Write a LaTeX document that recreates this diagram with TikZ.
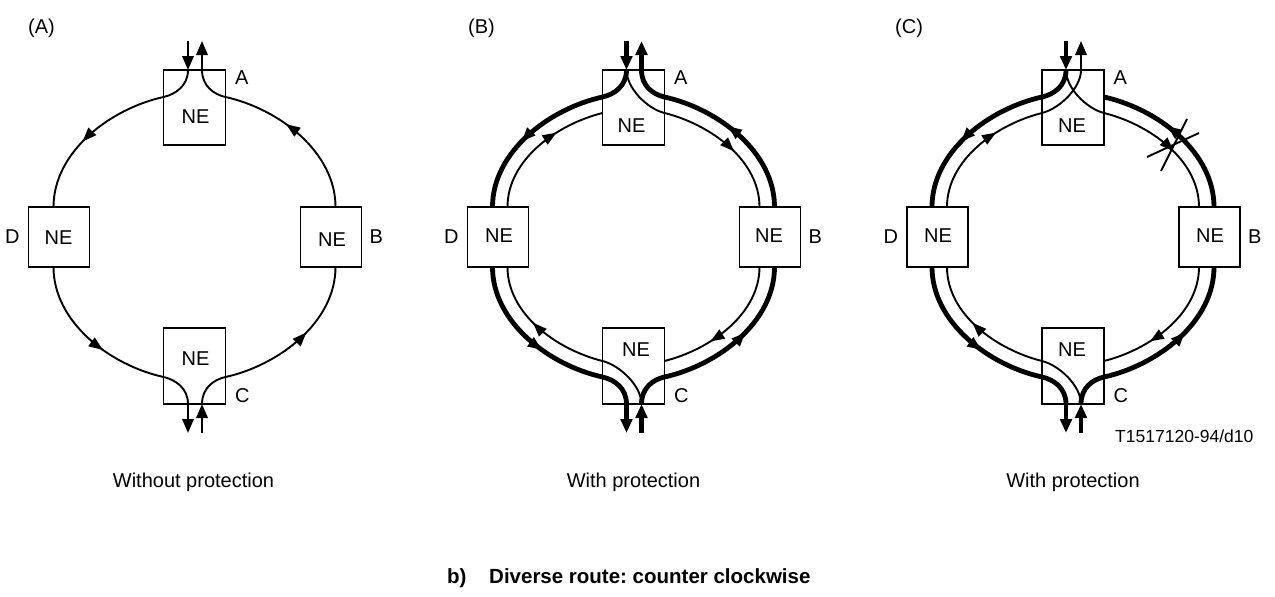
\documentclass[tikz,border=0pt]{standalone}
\usepackage{fontspec}
\setmainfont{Liberation Sans}
\usetikzlibrary{arrows.meta,decorations.markings}
\tikzset{
  nebox/.style={draw, line width=1.8pt, inner sep=0pt},
  thinline/.style={line width=1.9pt},
  thickline/.style={line width=4.8pt},
  txt/.style={font=\fontsize{20}{24}\selectfont, inner sep=0pt, anchor=base west},
  ctxt/.style={font=\fontsize{20}{24}\selectfont, inner sep=0pt, anchor=base},
  am/.style={postaction={decorate}, decoration={markings, mark=at position #1 with {\arrow{Triangle[length=14pt,width=10.5pt]}}}},
  tip/.style={-{Triangle[length=14pt,width=11.5pt]}},
}
\newcommand\neboxes[1]{%
  \node[nebox, minimum width=62pt, minimum height=75pt] (#1A) at (0,107.5) {};
  \node[nebox, minimum width=62pt, minimum height=76pt] (#1C) at (0,366) {};
  \node[nebox, minimum width=61pt, minimum height=60pt] (#1D) at (-135.5,237) {};
  \node[nebox, minimum width=61pt, minimum height=60pt] (#1B) at (136.5,237) {};
  \node[txt] (#1la) at (40.5,84) {A};
  \node[txt] (#1lb) at (175,243) {B};
  \node[txt] (#1lc) at (40.5,402) {C};
  \node[txt] (#1ld) at (-189.5,243) {D};
}
% ring segments (relative to panel centre)
\newcommand\OTL[1]{\draw[#1] (-31,97) .. controls (-84.7,108.9) and (-141,152) .. (-141,207);}
\newcommand\OBL[1]{\draw[#1] (-141,267) .. controls (-141,322) and (-84.7,365.1) .. (-31,377);}
\newcommand\OBR[1]{\draw[#1] (31,377) .. controls (84.7,365.1) and (141,322) .. (141,267);}
\newcommand\OTR[1]{\draw[#1] (141,207) .. controls (141,152) and (84.7,108.9) .. (31,97);}
\newcommand\ITR[1]{\draw[#1] (31,113) .. controls (77,124.5) and (126,160) .. (126,207);}
\newcommand\IBR[1]{\draw[#1] (126,267) .. controls (126,314) and (77,349.5) .. (31,361);}
\newcommand\IBL[1]{\draw[#1] (-31,361) .. controls (-77,349.5) and (-126,314) .. (-126,267);}
\newcommand\ITL[1]{\draw[#1] (-126,207) .. controls (-126,160) and (-77,124.5) .. (-31,113);}
\begin{document}
\frenchspacing
\begin{tikzpicture}[x=1pt,y=-1pt]
\useasboundingbox (0,0) rectangle (1275,597);

% ---------------- panel A ----------------
\begin{scope}[xshift=194.5pt]
\neboxes{a}
\node[ctxt] (aneA) at (1,123) {NE};
\node[ctxt] (aneC) at (1,365) {NE};
\node[ctxt] (aneD) at (-136,244) {NE};
\node[ctxt] (aneB) at (137.5,246) {NE};
\draw[thinline,tip] (-6.5,41) -- (-6.5,70);
\draw[thinline] (-6.5,70) .. controls (-6.5,86) and (-19.3,94.4) .. (-31,97);
\OTL{thinline,am=0.56}
\OBL{thinline,am=0.6}
\draw[thinline] (-31,377) .. controls (-19.3,379.6) and (-6.5,388) .. (-6.5,404);
\draw[thinline,tip] (-6.5,404) -- (-6.5,433);
\draw[thinline,tip] (7.5,433) -- (7.5,404);
\draw[thinline] (7.5,404) .. controls (7.5,388) and (19.3,379.6) .. (31,377);
\OBR{thinline,am=0.56}
\OTR{thinline,am=0.6}
\draw[thinline] (31,97) .. controls (19.3,94.4) and (7.5,86) .. (7.5,70);
\draw[thinline,tip] (7.5,70) -- (7.5,41);
\end{scope}

% ---------------- panel B ----------------
\begin{scope}[xshift=633.5pt]
\neboxes{b}
\node[ctxt] (bneA) at (-2,132) {NE};
\node[ctxt] (bneC) at (2.5,356) {NE};
\node[ctxt] (bneD) at (-134.5,242) {NE};
\node[ctxt] (bneB) at (135.5,242) {NE};
% protection (thin)
\draw[thinline] (-7,70) .. controls (-7,88) and (13.5,108.6) .. (31,113);
\ITR{thinline,am=0.56}
\IBR{thinline,am=0.65}
\draw[thinline] (8,404) .. controls (8,386) and (-13.5,365.4) .. (-31,361);
\IBL{thinline,am=0.56}
\ITL{thinline,am=0.65}
% working (thick)
\draw[thickline,tip] (-7,41) -- (-7,70);
\draw[thickline] (-7,70) .. controls (-7,86) and (-19.3,94.4) .. (-31,97);
\OTL{thickline,am=0.56}
\OBL{thickline,am=0.6}
\draw[thickline] (-31,377) .. controls (-19.3,379.6) and (-7,388) .. (-7,404);
\draw[thickline,tip] (-7,404) -- (-7,433);
\draw[thickline,tip] (8,433) -- (8,404);
\draw[thickline] (8,404) .. controls (8,388) and (19.3,379.6) .. (31,377);
\OBR{thickline,am=0.56}
\OTR{thickline,am=0.58}
\draw[thickline] (31,97) .. controls (19.3,94.4) and (8,86) .. (8,70);
\draw[thickline,tip] (8,70) -- (8,41);
\end{scope}

% ---------------- panel C ----------------
\begin{scope}[xshift=1073pt]
\neboxes{c}
\node[ctxt] (cneA) at (-1,132) {NE};
\node[ctxt] (cneC) at (-1,356) {NE};
\node[ctxt] (cneD) at (-135,242) {NE};
\node[ctxt] (cneB) at (137,242) {NE};
% protection (thin)
\draw[thinline] (-7,70) .. controls (-7,88) and (13.5,108.6) .. (31,113);
\ITR{thinline,am=0.56}
\IBR{thinline,am=0.65}
\draw[thinline] (8,404) .. controls (8,386) and (-13.5,365.4) .. (-31,361);
\IBL{thinline,am=0.56}
\ITL{thinline,am=0.65}
\draw[thinline] (-31,113) .. controls (-13.5,108.6) and (8,88) .. (8,70);
\draw[thinline,tip] (8,70) -- (8,41);
% working (thick)
\draw[thickline,tip] (-7,41) -- (-7,70);
\draw[thickline] (-7,70) .. controls (-7,86) and (-19.3,94.4) .. (-31,97);
\OTL{thickline,am=0.56}
\OBL{thickline,am=0.6}
\draw[thickline] (-31,377) .. controls (-19.3,379.6) and (-7,388) .. (-7,404);
\draw[thickline,tip] (-7,404) -- (-7,433);
\draw[thickline,tip] (8,433) -- (8,404);
\draw[thickline] (8,404) .. controls (8,388) and (19.3,379.6) .. (31,377);
\OBR{thickline,am=0.56}
\OTR{thickline,am=0.58}
% failure mark
\draw[line width=1.9pt] (74,157) -- (126,133);
\draw[line width=1.9pt] (88,171) -- (114,119);
\end{scope}

% ---------------- texts ----------------
\node[txt] (pa) at (28,33) {(A)};
\node[txt] (pb) at (468,33) {(B)};
\node[txt] (pc) at (895,33) {(C)};
\node[ctxt] (t1) at (193.5,487) {Without protection};
\node[ctxt] (t2) at (633.5,487) {With protection};
\node[ctxt] (t3) at (1073,487) {With protection};
\node[font=\fontsize{17.5}{20}\selectfont, inner sep=0pt, anchor=base west] (tn) at (1115,442) {T1517120-94/d10};
\node[font=\bfseries\fontsize{20.5}{24}\selectfont, inner sep=0pt, anchor=base west] (cap1) at (447,583) {b)};
\node[font=\bfseries\fontsize{20.5}{24}\selectfont, inner sep=0pt, anchor=base west] (cap2) at (489,583) {Diverse route: counter clockwise};
\end{tikzpicture}
\end{document}
